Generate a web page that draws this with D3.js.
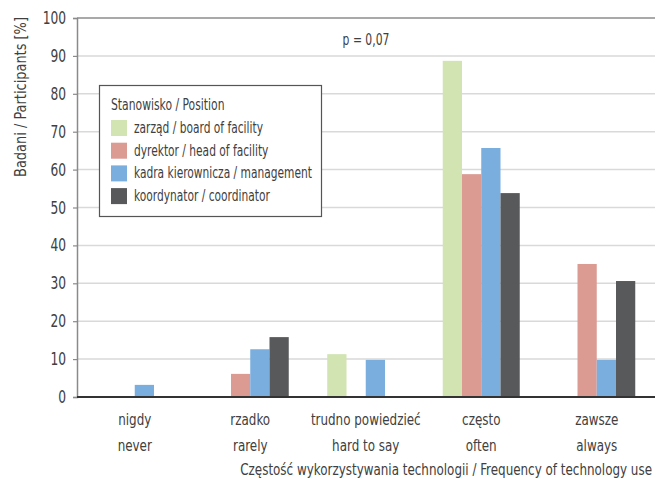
<!DOCTYPE html>
<html><head><meta charset="utf-8">
<script src="https://cdn.jsdelivr.net/npm/d3@7"></script>
<style>
html,body{margin:0;padding:0;background:#fff;}
text{font-family:"DejaVu Sans Condensed","Liberation Sans Narrow",sans-serif;fill:#404040;}
</style></head>
<body><svg id="c" width="655" height="484"></svg>
<script>
const categories = [["nigdy","never"],["rzadko","rarely"],["trudno powiedzieć","hard to say"],["często","often"],["zawsze","always"]];
const seriesNames = ["zarząd / board of facility","dyrektor / head of facility","kadra kierownicza / management","koordynator / coordinator"];
const seriesColors = ["#d1e4b1","#db9b93","#7aaedf","#58595b"];
const zarzad = [0, 0, 11.3, 88.7, 0];
const dyrektor = [0, 6.1, 0, 58.8, 35.1];
const kadra = [3.2, 12.6, 9.8, 65.7, 9.8];
const koordynator = [0, 15.8, 0, 53.8, 30.6];
const yTicks = [0,10,20,30,40,50,60,70,80,90,100];
const legendTitle = "Stanowisko / Position";
const xTitle = "Częstość wykorzystywania technologii / Frequency of technology use";
const yTitle = "Badani / Participants [%]";
const pText = "p = 0,07";

const values = [zarzad, dyrektor, kadra, koordynator];
const svg = d3.select("#c");
const L = 77, R = 654.5, T = 18, B = 397;
const x0 = d3.scaleBand().domain(d3.range(categories.length)).range([L, R]).padding(0);
const x1 = d3.scaleBand().domain(d3.range(seriesNames.length)).range([0, x0.bandwidth()]).paddingInner(0).paddingOuter(1);
const y = d3.scaleLinear().domain([0,100]).range([B, T]);

// text drawn in a horizontally condensed form (reference uses a condensed face)
function label(parent, x, yy, str, opts) {
  const o = Object.assign({anchor: "start", size: 16, f: 0.83, rot: 0}, opts || {});
  return parent.append("text")
    .attr("transform", `translate(${x},${yy})` + (o.rot ? ` rotate(${o.rot})` : "") + ` scale(${o.f},1)`)
    .attr("text-anchor", o.anchor).style("font-size", o.size + "px").text(str);
}

svg.append("g").selectAll("line").data(yTicks.filter(t=>t>0 && t<100)).join("line")
  .attr("x1", L).attr("x2", 655).attr("y1", d=>y(d)).attr("y2", d=>y(d))
  .attr("stroke", "#d9d9d9").attr("stroke-width", 1.5);
svg.append("line").attr("x1", L).attr("x2", 655).attr("y1", y(100)).attr("y2", y(100))
  .attr("stroke", "#555").attr("stroke-width", 1.2);

const g = svg.append("g");
values.forEach((arr, s) => {
  g.append("g").selectAll("rect").data(arr.map((v,i)=>({v,i}))).join("rect")
    .attr("x", d => x0(d.i) + x1(s))
    .attr("width", x1.bandwidth())
    .attr("y", d => y(d.v))
    .attr("height", d => B - y(d.v))
    .attr("fill", seriesColors[s]);
});

// y axis (ticks from d3 axis, labels condensed)
const yAxis = d3.axisLeft(y).tickValues(yTicks).tickSize(4).tickFormat("");
const ya = svg.append("g").attr("transform", `translate(${L},0)`).call(yAxis);
ya.select(".domain").attr("stroke", "#8a8a8a").attr("stroke-width", 1.5);
ya.selectAll(".tick line").attr("stroke", "#8a8a8a").attr("stroke-width", 1.2);
yTicks.forEach(t => label(svg, L - 11, y(t) + 6, String(t), {anchor: "end", size: 17, f: 0.8}));

// x axis
const xa = svg.append("g").attr("transform", `translate(0,${B})`)
  .call(d3.axisBottom(x0).tickSize(0).tickFormat(""));
xa.select(".domain").attr("stroke", "#333").attr("stroke-width", 2).attr("d", `M${L},0H655`);
categories.forEach((c, i) => {
  const cx = x0(i) + x0.bandwidth()/2;
  c.forEach((s, k) => label(svg, cx, 425 + k * 26, s, {anchor: "middle", size: 16, f: 0.83}));
});

label(svg, 652, 475, xTitle, {anchor: "end", size: 16, f: 0.83});
label(svg, 26, 97, yTitle, {anchor: "middle", size: 16, f: 0.9, rot: -90});
label(svg, 366, 45, pText, {anchor: "middle", size: 15, f: 0.8});

const lg = svg.append("g");
lg.append("rect").attr("x", 99.5).attr("y", 85.5).attr("width", 222).attr("height", 131)
  .attr("fill", "#fff").attr("stroke", "#555").attr("stroke-width", 1.2);
label(lg, 111, 110, legendTitle, {size: 15, f: 0.8});
seriesNames.forEach((n, i) => {
  const yy = 120 + i * 22.7;
  lg.append("rect").attr("x", 111).attr("y", yy).attr("width", 16).attr("height", 16).attr("fill", seriesColors[i]);
  label(lg, 134, yy + 13, n, {size: 15, f: 0.79});
});
</script></body></html>
